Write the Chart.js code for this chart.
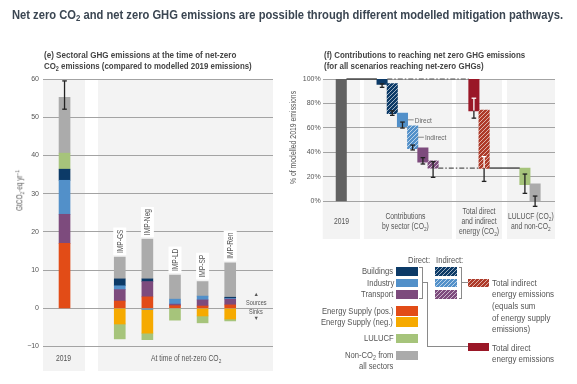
<!DOCTYPE html>
<html>
<head>
<meta charset="utf-8">
<script src="https://cdn.jsdelivr.net/npm/chart.js@4.4.1/dist/chart.umd.min.js"></script>
<style>
html, body { margin: 0; padding: 0; background: #fff; }
#wrap { position: relative; width: 577px; height: 384px; overflow: hidden;
  font-family: 'Liberation Sans', Arial, sans-serif; color: #555; }
#wrap canvas { position: absolute; top: 0; }
.t { position: absolute; white-space: nowrap; transform-origin: 0 0; }
.sub { font-size: 70%; vertical-align: -2px; line-height: 0; }
.sup { font-size: 70%; vertical-align: 3px; line-height: 0; }
.sw { position: absolute; }
.ln { position: absolute; background: #8a8a8a; }
</style>
</head>
<body>
<div id="wrap">
  <canvas id="chartE" width="290" height="384" style="left:0"></canvas>
  <canvas id="chartF" width="287" height="384" style="left:290px"></canvas>
  <div id="texts"></div>
</div>

<script>
// ---- data (e): GtCO2-eq/yr by sector, 2019 and the five IMPs at net-zero CO2
const scenarios = ['2019', 'IMP-GS', 'IMP-Neg', 'IMP-LD', 'IMP-SP', 'IMP-Ren'];
const energyPos = [17.0, 1.9, 3.0, 0.7, 0.6, 0.9];
const transport = [7.6, 3.0, 4.0, 0.4, 1.6, 1.5];
const industry  = [8.9, 1.0, -0.3, 1.3, 1.0, 0.2];
const buildings = [2.9, 1.8, 0.7, 0, 0, 0.3];
const energyNeg = [0, -4.1, -6.2, 0, -2.0, -2.8];
const lulucf    = [4.2, -3.9, -1.7, -3.1, -1.8, -0.5];
const nonCO2    = [14.6, 5.7, 10.4, 6.3, 3.8, 9.0];
const range2019 = [52.1, 59.5];
const ticksE = [-10, 0, 10, 20, 30, 40, 50, 60];

// ---- data (f): % of modelled 2019 emissions (waterfall)
const steps = ['2019', 'Buildings direct', 'Buildings indirect', 'Industry direct', 'Industry indirect',
  'Transport direct', 'Transport indirect', 'Total direct energy', 'Total indirect energy', 'LULUCF', 'Non-CO2'];
const stepLow  = [0, 95.5, 71.6, 61.0, 43.0, 32.0, 27.2, 74.0, 27.0, 13.6, 0];
const stepHigh = [100, 100, 96.2, 72.2, 61.8, 43.8, 33.2, 100, 74.6, 27.2, 14.4];
const errLow   = [null, 93.2, 70.3, 59.9, 42.0, 30.5, 19.6, 68.0, 16.3, 6.5, -4.1];
const errHigh  = [null, 96.0, 74.0, 64.8, 46.0, 35.7, 32.4, 84.3, 36.5, 22.3, 4.3];
const ticksF = [0, 20, 40, 60, 80, 100];

const FONT = "'Liberation Sans', Arial, sans-serif";
Chart.defaults.font.family = FONT;
Chart.defaults.font.size = 7;
Chart.defaults.color = '#555';

const C = {
  buildings: '#0c3a67', industry: '#5290c9', transport: '#7d4b7d',
  esPos: '#e24c17', esNeg: '#f6aa00', lulucf: '#a6c47b', nonco2: '#ababab',
  base: '#616161', totDirect: '#9a1727', totIndirect: '#ad3a29'
};

function hatchTile(color) {
  const c = document.createElement('canvas');
  c.width = 4; c.height = 4;
  const g = c.getContext('2d');
  g.fillStyle = color; g.fillRect(0, 0, 4, 4);
  g.strokeStyle = 'rgba(255,255,255,0.6)'; g.lineWidth = 1;
  g.beginPath();
  g.moveTo(0, 4); g.lineTo(4, 0);
  g.moveTo(-1, 1); g.lineTo(1, -1);
  g.moveTo(3, 5); g.lineTo(5, 3);
  g.stroke();
  return c;
}
const ctx0 = document.createElement('canvas').getContext('2d');
const hatch = col => ctx0.createPattern(hatchTile(col), 'repeat');

// grey background panels (x in axis units)
const panels = {
  id: 'panels',
  beforeDraw(chart, args, o) {
    const { ctx, chartArea: a, scales: { x } } = chart;
    ctx.save();
    ctx.fillStyle = '#f3f3f3';
    o.ranges.forEach(([x0, x1]) => {
      const p0 = x.getPixelForValue(x0), p1 = x.getPixelForValue(x1);
      ctx.fillRect(p0, a.top, p1 - p0, a.bottom - a.top);
    });
    ctx.restore();
  }
};

function drawErr(ctx, px, y0, y1, color) {
  ctx.strokeStyle = color;
  ctx.beginPath();
  ctx.moveTo(px, y0); ctx.lineTo(px, y1);
  ctx.stroke();
}
function drawCap(ctx, px, py, color) {
  ctx.strokeStyle = color;
  ctx.beginPath();
  ctx.moveTo(px - 2.3, py); ctx.lineTo(px + 2.3, py);
  ctx.stroke();
}

// ---------- chart (e)
const slotsE = [0, 2, 3, 4, 5, 6];
const seriesE = [
  [energyPos, C.esPos], [transport, C.transport], [industry, C.industry], [buildings, C.buildings],
  [energyNeg, C.esNeg], [lulucf, C.lulucf], [nonCO2, C.nonco2]
];
const posTop = scenarios.map(() => 0), negBot = scenarios.map(() => 0);
const dsE = seriesE.map(([vals, col]) => {
  const pts = [];
  vals.forEach((v, i) => {
    if (!v) return;
    let lo, hi;
    if (v > 0) { lo = posTop[i]; hi = lo + v; posTop[i] = hi; }
    else { hi = negBot[i]; lo = hi + v; negBot[i] = lo; }
    pts.push({ x: slotsE[i], y: [lo, hi] });
  });
  return { data: pts, backgroundColor: col, borderWidth: 0, barThickness: 11, grouped: false };
});

const extrasE = {
  id: 'extrasE',
  afterDatasetsDraw(chart) {
    const { ctx, scales: { x, y } } = chart;
    ctx.save();
    ctx.lineWidth = 1.3;
    const px = x.getPixelForValue(slotsE[0]);
    drawErr(ctx, px, y.getPixelForValue(range2019[0]), y.getPixelForValue(range2019[1]), '#222');
    drawCap(ctx, px, y.getPixelForValue(range2019[0]), '#222');
    drawCap(ctx, px, y.getPixelForValue(range2019[1]), '#222');
    // rotated scenario names above each IMP bar
    ctx.font = '8.5px ' + FONT;
    const sx = 0.78;
    scenarios.forEach((name, i) => {
      if (i === 0) return;
      const cx = x.getPixelForValue(slotsE[i]);
      const base = y.getPixelForValue(posTop[i]) - 2;
      const w = ctx.measureText(name).width * sx;
      ctx.fillStyle = '#fff';
      ctx.fillRect(cx - 6.5, base - w - 4, 13, w + 4);
      ctx.save();
      ctx.translate(cx, base - 2);
      ctx.rotate(-Math.PI / 2);
      ctx.scale(sx, 1);
      ctx.fillStyle = '#555';
      ctx.textBaseline = 'middle';
      ctx.textAlign = 'left';
      ctx.fillText(name, 0, 0.5);
      ctx.restore();
    });
    ctx.restore();
  }
};

new Chart(document.getElementById('chartE'), {
  type: 'bar',
  data: { datasets: dsE },
  options: {
    responsive: false, animation: false,
    layout: { padding: { left: 13, right: 17, top: 79, bottom: 13 } },
    plugins: {
      legend: { display: false }, tooltip: { enabled: false },
      panels: { ranges: [[-0.78, 0.74], [1.21, 7.55]] }
    },
    scales: {
      x: { type: 'linear', min: -0.78, max: 7.55, offset: false, display: false },
      y: {
        min: -16.4, max: 60,
        afterFit(s) { s.width = 30; },
        afterBuildTicks(s) { s.ticks = ticksE.map(v => ({ value: v })); },
        grid: { color: '#a3a3a3', lineWidth: 1, drawTicks: false },
        border: { display: false },
        ticks: { padding: 4, callback: v => v < 0 ? '\u2212' + Math.abs(v) : String(v) }
      }
    }
  },
  plugins: [panels, extrasE]
});

// ---------- chart (f)
const slotsF = [0, 4, 5, 6, 7, 8, 9, 13, 14, 18, 19];
const fillsF = [C.base, C.buildings, hatch(C.buildings), C.industry, hatch(C.industry),
  C.transport, hatch(C.transport), C.totDirect, hatch(C.totIndirect), C.lulucf, C.nonco2];
const whiteInside = new Set([7, 8]);

const extrasF = {
  id: 'extrasF',
  afterDatasetsDraw(chart) {
    const { ctx, scales: { x, y } } = chart;
    const meta = chart.getDatasetMeta(0).data;
    const left = i => meta[i].x - meta[i].width / 2;
    const right = i => meta[i].x + meta[i].width / 2;
    ctx.save();
    // connectors
    const seg = (x0, x1, v, dash, col) => {
      ctx.setLineDash(dash); ctx.strokeStyle = col; ctx.lineWidth = 1.2;
      const py = y.getPixelForValue(v);
      ctx.beginPath(); ctx.moveTo(x0, py); ctx.lineTo(x1, py); ctx.stroke();
    };
    seg(right(0), left(1), stepHigh[0], [], '#222');
    seg(right(1), left(7), stepHigh[7], [5, 2, 1.5, 2], '#555');
    seg(right(6), left(8), stepLow[6], [5, 2, 1.5, 2], '#555');
    seg(right(8), left(9), stepHigh[9], [], '#222');
    ctx.setLineDash([]);
    // error bars
    ctx.lineWidth = 1.3;
    steps.forEach((s, i) => {
      if (errLow[i] == null) return;
      const px = meta[i].x;
      const yl = y.getPixelForValue(errLow[i]), yh = y.getPixelForValue(errHigh[i]);
      if (whiteInside.has(i)) {
        const yb = y.getPixelForValue(stepLow[i]);
        drawErr(ctx, px, yh, yb, '#fff');
        drawErr(ctx, px, yb, yl, '#222');
        drawCap(ctx, px, yh, '#fff');
        drawCap(ctx, px, yl, '#222');
      } else {
        drawErr(ctx, px, yl, yh, '#222');
        drawCap(ctx, px, yl, '#222');
        drawCap(ctx, px, yh, '#222');
      }
    });
    // direct / indirect call-outs
    ctx.font = '8px ' + FONT;
    ctx.textBaseline = 'middle';
    [[3, 'Direct'], [4, 'Indirect']].forEach(([i, txt]) => {
      const py = y.getPixelForValue((stepLow[i] + stepHigh[i]) / 2);
      const x0 = right(i);
      ctx.strokeStyle = '#888'; ctx.lineWidth = 1;
      ctx.beginPath(); ctx.moveTo(x0, py); ctx.lineTo(x0 + 6, py); ctx.stroke();
      ctx.save();
      ctx.translate(x0 + 7, py + 0.5);
      ctx.scale(0.82, 1);
      ctx.fillStyle = '#666';
      ctx.fillText(txt, 0, 0);
      ctx.restore();
    });
    ctx.restore();
  }
};

new Chart(document.getElementById('chartF'), {
  type: 'bar',
  data: {
    datasets: [{
      data: steps.map((s, i) => ({ x: slotsF[i], y: [stepLow[i], stepHigh[i]] })),
      backgroundColor: fillsF, borderWidth: 0, barThickness: 10.4, grouped: false
    }]
  },
  options: {
    responsive: false, animation: false,
    layout: { padding: { left: 4.7, right: 22, top: 79, bottom: 145 } },
    plugins: {
      legend: { display: false }, tooltip: { enabled: false },
      panels: { ranges: [[-1.82, 1.84], [2.22, 10.85], [11.24, 15.75], [16.24, 20.95]] }
    },
    scales: {
      x: { type: 'linear', min: -1.82, max: 20.95, offset: false, display: false },
      y: {
        min: -30.8, max: 100,
        afterFit(s) { s.width = 28; },
        afterBuildTicks(s) { s.ticks = ticksF.map(v => ({ value: v })); },
        grid: { color: '#a3a3a3', lineWidth: 1, drawTicks: false },
        border: { display: false },
        ticks: { padding: 2, callback: v => v + '%' }
      }
    }
  },
  plugins: [panels, extrasF]
});

// ---------- HTML texts, legend
const host = document.getElementById('texts');
// opts: a = align l/c/r, fs = font size, s = x-scale, w = target width, lh = line height, rot, css
function txt(html, x, y, o) {
  o = o || {};
  const d = document.createElement('div');
  d.className = 't';
  d.innerHTML = html;
  d.style.fontSize = (o.fs || 9) + 'px';
  d.style.lineHeight = (o.lh || 11) + 'px';
  if (o.a === 'c') d.style.textAlign = 'center';
  if (o.a === 'r') d.style.textAlign = 'right';
  if (o.css) d.style.cssText += o.css;
  host.appendChild(d);
  const w = d.offsetWidth, h = d.offsetHeight;
  const s = o.w ? o.w / w : (o.s || 0.84);
  if (o.rot) {
    d.style.left = (x - w / 2) + 'px'; d.style.top = (y - h / 2) + 'px';
    d.style.transformOrigin = '50% 50%';
    d.style.transform = `rotate(-90deg) scaleX(${s})`;
  } else {
    const ew = w * s;
    d.style.left = (x - (o.a === 'c' ? ew / 2 : o.a === 'r' ? ew : 0)) + 'px';
    d.style.top = (y - h / 2) + 'px';
    d.style.transform = `scaleX(${s})`;
  }
  return d;
}
const sub2 = '<span class="sub">2</span>';
const bold = 'font-weight:bold;color:#444;';

txt(`Net zero CO${sub2} and net zero GHG emissions are possible through different modelled mitigation pathways.`,
  12, 15, { fs: 12.5, w: 551, css: 'font-weight:bold;color:#3b4652;' });
txt('(e) Sectoral GHG emissions at the time of net-zero', 44, 54, { fs: 9.5, w: 192, css: bold });
txt(`CO${sub2} emissions (compared to modelled 2019 emissions)`, 44, 65, { fs: 9.5, w: 207.5, css: bold });
txt('(f) Contributions to reaching net zero GHG emissions', 324, 54, { fs: 9.5, w: 201.5, css: bold });
txt('(for all scenarios reaching net-zero GHGs)', 324, 65, { fs: 9.5, w: 160, css: bold });

txt(`GtCO${sub2}-eq yr<span class="sup">&minus;1</span>`, 20, 190, { fs: 8.5, w: 41, rot: true });
txt('% of modelled 2019 emissions', 293.5, 137, { fs: 8.5, w: 93, rot: true });

txt('2019', 64, 358, { a: 'c', fs: 8.5, s: 0.8 });
txt(`At time of net-zero CO${sub2}`, 186, 358, { a: 'c', fs: 8.5, s: 0.8 });
txt('&#9650;', 256, 294.5, { a: 'c', fs: 5.5, s: 1 });
txt('Sources', 256, 302.5, { a: 'c', fs: 7, s: 0.8 });
txt('Sinks', 256, 311.5, { a: 'c', fs: 7, s: 0.8 });
txt('&#9660;', 256, 318.5, { a: 'c', fs: 5.5, s: 1 });

txt('2019', 341.5, 221, { a: 'c', fs: 8.5, s: 0.8 });
txt(`Contributions<br>by sector (CO${sub2})`, 406, 220.7, { a: 'c', fs: 8.5, s: 0.8, lh: 10 });
txt(`Total direct<br>and indirect<br>energy (CO${sub2})`, 478.5, 220.7, { a: 'c', fs: 8.5, s: 0.8, lh: 10 });
txt(`LULUCF (CO${sub2})<br>and non-CO${sub2}`, 531, 220.7, { a: 'c', fs: 8.5, s: 0.8, lh: 10 });

function box(x, y, w, h, bg, img) {
  const d = document.createElement('div');
  d.className = 'sw';
  d.style.cssText = `left:${x}px;top:${y}px;width:${w}px;height:${h}px;background:${bg};` + (img ? `background-image:${img};` : '');
  host.appendChild(d);
}
function line(x, y, w, h) {
  const d = document.createElement('div');
  d.className = 'ln';
  d.style.cssText = `left:${x}px;top:${y}px;width:${w}px;height:${h}px;`;
  host.appendChild(d);
}
const tileURL = col => 'url(' + hatchTile(col).toDataURL() + ')';
const lgTxt = { fs: 9, s: 0.85 };
txt('Direct:', 407.5, 260, lgTxt);
txt('Indirect:', 435.5, 260, lgTxt);
[['Buildings', C.buildings, 267.3], ['Industry', C.industry, 278.7], ['Transport', C.transport, 290]]
  .forEach(([name, col, y0]) => {
    txt(name, 393.7, y0 + 4.5, { ...lgTxt, a: 'r' });
    box(396, y0, 22, 8.7, col);
    box(435, y0, 21.7, 8.7, col, tileURL(col));
  });
txt('Energy Supply (pos.)', 393.7, 311, { ...lgTxt, a: 'r' }); box(396, 306.3, 22, 9.4, C.esPos);
txt('Energy Supply (neg.)', 393.7, 322, { ...lgTxt, a: 'r' }); box(396, 317, 22, 9.7, C.esNeg);
txt('LULUCF', 393.7, 338.7, { ...lgTxt, a: 'r' }); box(396, 334, 22, 9.3, C.lulucf);
txt(`Non-CO${sub2} from`, 393.7, 355.3, { ...lgTxt, a: 'r' }); box(396, 351, 22, 8.7, C.nonco2);
txt('all sectors', 393.7, 366, { ...lgTxt, a: 'r' });

// brackets and leader lines
line(419.3, 267, 3.4, 1); line(421.7, 267, 1, 32); line(419.3, 298, 3.4, 1);
line(422.7, 282.2, 4.6, 1); line(426.8, 282.2, 1, 64.8); line(426.8, 346.4, 41, 1);
line(458.8, 267, 3.4, 1); line(461.2, 267, 1, 32); line(458.8, 298, 3.4, 1);
line(462.2, 282.2, 5.5, 1);
box(467.7, 279, 21.3, 7.6, C.totIndirect, tileURL(C.totIndirect));
box(467.7, 343.3, 21.3, 8, C.totDirect);
[['Total indirect', 282.7], ['energy emissions', 293.7], ['(equals sum', 305.7],
 ['of energy supply', 317], ['emissions)', 328], ['Total direct', 347.7], ['energy emissions', 358.7]]
  .forEach(([s, y]) => txt(s, 492, y, { fs: 9.5, s: 0.84 }));
</script>
</body>
</html>
